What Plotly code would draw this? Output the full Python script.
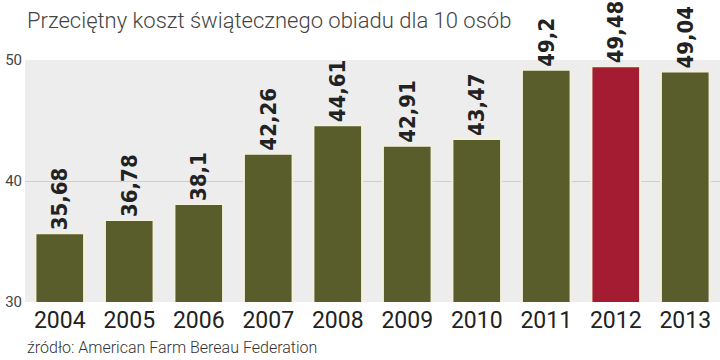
import plotly.graph_objects as go

years = ["2004", "2005", "2006", "2007", "2008", "2009", "2010", "2011", "2012", "2013"]
values = [35.68, 36.78, 38.1, 42.26, 44.61, 42.91, 43.47, 49.2, 49.48, 49.04]
highlight_year = "2012"
y_ticks = [30, 40, 50]

olive = "#595d2c"
red = "#a31c32"
colors = [red if y == highlight_year else olive for y in years]
labels = [str(v).replace(".", ",") for v in values]

fig = go.Figure(go.Bar(
    x=years, y=values, marker=dict(color=colors, line=dict(color="#f3f0dc", width=2)),
    text=labels, textposition="outside", textangle=-90, cliponaxis=False, constraintext="none",
    textfont=dict(family="DejaVu Sans Condensed", size=22, color="#222222", weight="bold"),
))

fig.update_layout(
    width=720, height=360,
    margin=dict(l=25, r=0, t=60, b=58),
    paper_bgcolor="white", plot_bgcolor="#ededed",
    bargap=0.3, showlegend=False,
    separators=", ",
    font=dict(family="Roboto", color="#333333"),
    xaxis=dict(showgrid=False, showline=False, ticks="", tickfont=dict(size=23, color="#222222"), ticklabelstandoff=2),
    yaxis=dict(range=[30, 50], tickvals=y_ticks, showgrid=True, gridcolor="#cfcfcf", gridwidth=1,
               zeroline=False, tickfont=dict(size=15, color="#444444"), ticklabelstandoff=2),
    annotations=[
        dict(text="Przeciętny koszt świątecznego obiadu dla 10 osób", xref="paper", yref="paper",
             x=-0.0, y=1.0, xanchor="left", yanchor="bottom", yshift=25, showarrow=False,
             font=dict(family="Roboto", size=22, color="#444444", weight=300)),
        dict(text="źródło: American Farm Bereau Federation", xref="paper", yref="paper",
             x=0.0, y=0.0, xanchor="left", yanchor="top", yshift=-34, showarrow=False,
             font=dict(family="Roboto", size=16, color="#333333", weight=300)),
    ],
)

fig.write_html("out.html", config={"displayModeBar": False},
               post_script="document.body.style.margin='0';")
